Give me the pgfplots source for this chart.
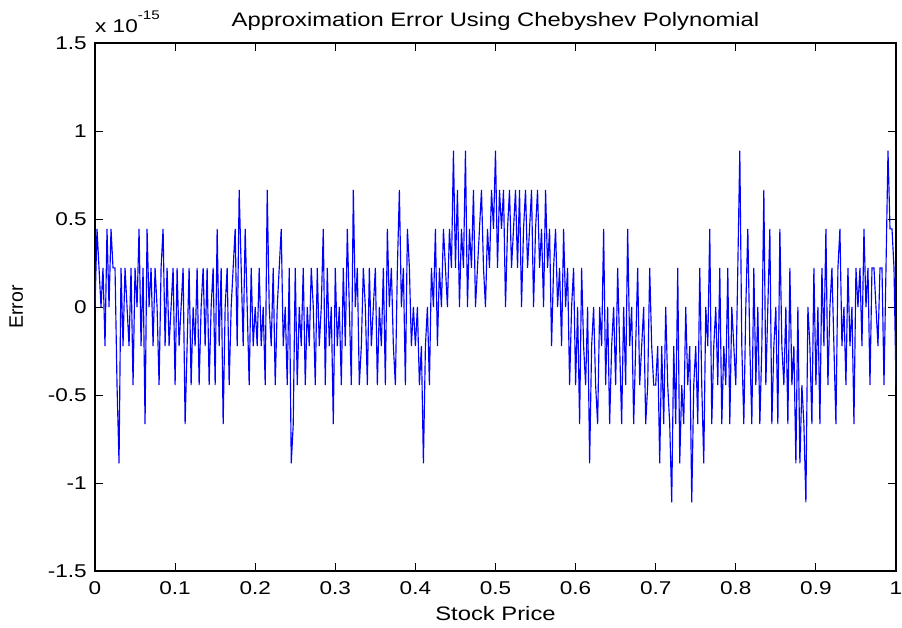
\documentclass[border=0pt]{standalone}
\usepackage{fontspec}
\setmainfont{Liberation Sans}[FakeStretch=1.22]
\newfontfamily\plainfont{Liberation Sans}
\usepackage{pgfplots}
\pgfplotsset{compat=1.18}
\begin{document}
\begin{tikzpicture}
\begin{axis}[
  at={(0pt,0pt)}, anchor=south west,
  scale only axis, width=801pt, height=528pt,
  xmin=0, xmax=1, ymin=-1.5, ymax=1.5,
  xtick={0,0.1,0.2,0.3,0.4,0.5,0.6,0.7,0.8,0.9,1},
  xticklabels={0,0.1,0.2,0.3,0.4,0.5,0.6,0.7,0.8,0.9,1},
  ytick={-1.5,-1,-0.5,0,0.5,1,1.5},
  yticklabels={-1.5,-1,-0.5,0,0.5,1,1.5},
  scaled y ticks=false,
  tick align=inside, major tick length=8pt,
  tick style={black, line width=0.9pt},
  axis line style={black, line width=1.2pt},
  xticklabel style={font=\fontsize{18.5}{20}\selectfont, anchor=base, inner sep=0pt, yshift=-24pt},
  yticklabel style={font=\fontsize{18.5}{20}\selectfont, anchor=east, inner sep=0pt, xshift=-8pt},
]
\addplot[blue, line width=1.15pt] coordinates {
(0,0)(0.0025,0.444)(0.005,0.222)(0.0075,0)(0.01,0.222)(0.0125,-0.222)(0.015,0.444)(0.0175,0)(0.02,0.444)(0.0225,0.222)
(0.025,0.222)(0.0275,-0.444)(0.03,-0.888)(0.0325,0.222)(0.035,-0.222)(0.0375,0.222)(0.04,0)(0.0425,-0.222)(0.045,0.222)(0.0475,-0.444)
(0.05,0.222)(0.0525,0)(0.055,0.444)(0.0575,-0.222)(0.06,0.222)(0.0625,-0.666)(0.065,0.444)(0.0675,0)(0.07,0.222)(0.0725,-0.222)
(0.075,0.222)(0.0775,0)(0.08,-0.444)(0.0825,0.222)(0.085,0.444)(0.0875,-0.222)(0.09,0.222)(0.0925,-0.222)(0.095,0)(0.0975,0.222)
(0.1,-0.444)(0.1025,0.222)(0.105,-0.222)(0.1075,0)(0.11,0.222)(0.1125,-0.666)(0.115,-0.222)(0.1175,0.222)(0.12,-0.444)(0.1225,0)
(0.125,-0.222)(0.1275,0.222)(0.13,-0.444)(0.1325,0)(0.135,0.222)(0.1375,-0.222)(0.14,0.222)(0.1425,-0.444)(0.145,0)(0.1475,0.222)
(0.15,-0.444)(0.1525,0.444)(0.155,-0.222)(0.1575,0.222)(0.16,-0.666)(0.1625,0)(0.165,0.222)(0.1675,-0.444)(0.17,0)(0.1725,0.222)
(0.175,0.444)(0.1775,-0.222)(0.18,0.666)(0.1825,0.222)(0.185,-0.222)(0.1875,0.444)(0.19,0)(0.1925,-0.444)(0.195,0.222)(0.1975,-0.222)
(0.2,0)(0.2025,-0.222)(0.205,0.222)(0.2075,-0.222)(0.21,0)(0.2125,-0.444)(0.215,0.666)(0.2175,0)(0.22,-0.222)(0.2225,0.222)
(0.225,-0.444)(0.2275,0)(0.23,0.222)(0.2325,0.444)(0.235,-0.222)(0.2375,0)(0.24,-0.444)(0.2425,0.222)(0.245,-0.888)(0.2475,-0.666)
(0.25,0.222)(0.2525,-0.444)(0.255,0)(0.2575,-0.222)(0.26,0.222)(0.2625,-0.444)(0.265,0)(0.2675,-0.222)(0.27,0.222)(0.2725,0)
(0.275,-0.444)(0.2775,0.222)(0.28,-0.222)(0.2825,0)(0.285,0.444)(0.2875,-0.444)(0.29,0.222)(0.2925,-0.222)(0.295,0)(0.2975,-0.666)
(0.3,0.222)(0.3025,-0.222)(0.305,0)(0.3075,-0.444)(0.31,0.222)(0.3125,-0.222)(0.315,0.444)(0.3175,0)(0.32,-0.444)(0.3225,0.666)
(0.325,0)(0.3275,0.222)(0.33,-0.444)(0.3325,-0.222)(0.335,0.222)(0.3375,0)(0.34,-0.444)(0.3425,0.222)(0.345,-0.222)(0.3475,0)
(0.35,0.222)(0.3525,-0.444)(0.355,0)(0.3575,-0.222)(0.36,0.222)(0.3625,-0.444)(0.365,0.444)(0.3675,0)(0.37,0.222)(0.3725,-0.222)
(0.375,-0.444)(0.3775,0.222)(0.38,0.666)(0.3825,0)(0.385,0.222)(0.3875,-0.444)(0.39,0.444)(0.3925,0.222)(0.395,-0.222)(0.3975,0)
(0.4,-0.222)(0.4025,0)(0.405,-0.444)(0.4075,-0.222)(0.41,-0.888)(0.4125,-0.222)(0.415,0)(0.4175,-0.444)(0.42,0.222)(0.4225,0)
(0.425,0.444)(0.4275,-0.222)(0.43,0.222)(0.4325,0)(0.435,0.444)(0.4375,0.222)(0.44,0)(0.4425,0.444)(0.445,0.222)(0.4475,0.888)
(0.45,0.222)(0.4525,0.666)(0.455,0)(0.4575,0.444)(0.46,0.222)(0.4625,0.888)(0.465,0)(0.4675,0.444)(0.47,0.222)(0.4725,0.666)
(0.475,0)(0.4775,0.222)(0.48,0.444)(0.4825,0.666)(0.485,0.222)(0.4875,0)(0.49,0.444)(0.4925,0.222)(0.495,0.666)(0.4975,0.444)
(0.5,0.888)(0.5025,0.222)(0.505,0.666)(0.5075,0.444)(0.51,0.666)(0.5125,0)(0.515,0.444)(0.5175,0.666)(0.52,0.222)(0.5225,0.444)
(0.525,0.666)(0.5275,0.222)(0.53,0.666)(0.5325,0)(0.535,0.444)(0.5375,0.666)(0.54,0.222)(0.5425,0.444)(0.545,0.666)(0.5475,0)
(0.55,0.444)(0.5525,0.666)(0.555,0.222)(0.5575,0.444)(0.56,0)(0.5625,0.666)(0.565,0.222)(0.5675,0.444)(0.57,-0.222)(0.5725,0.222)
(0.575,0.444)(0.5775,0)(0.58,0.222)(0.5825,-0.222)(0.585,0.444)(0.5875,0)(0.59,0.222)(0.5925,-0.444)(0.595,0)(0.5975,0.222)
(0.6,-0.444)(0.6025,0)(0.605,-0.666)(0.6075,0.222)(0.61,-0.222)(0.6125,-0.444)(0.615,0)(0.6175,-0.888)(0.62,-0.222)(0.6225,0)
(0.625,-0.444)(0.6275,-0.666)(0.63,0)(0.6325,-0.222)(0.635,0.444)(0.6375,-0.444)(0.64,0)(0.6425,-0.666)(0.645,-0.222)(0.6475,0)
(0.65,-0.444)(0.6525,0.222)(0.655,-0.222)(0.6575,-0.666)(0.66,0)(0.6625,-0.444)(0.665,0.444)(0.6675,-0.222)(0.67,0)(0.6725,-0.666)
(0.675,-0.222)(0.6775,0.222)(0.68,-0.444)(0.6825,-0.222)(0.685,0)(0.6875,-0.666)(0.69,-0.444)(0.6925,0.222)(0.695,-0.222)(0.6975,-0.444)
(0.7,-0.444)(0.7025,-0.222)(0.705,-0.888)(0.7075,-0.222)(0.71,-0.666)(0.7125,0)(0.715,-0.444)(0.7175,-0.666)(0.72,-1.11)(0.7225,-0.222)
(0.725,-0.666)(0.7275,0.222)(0.73,-0.888)(0.7325,-0.444)(0.735,-0.666)(0.7375,0)(0.74,-0.444)(0.7425,-0.222)(0.745,-1.11)(0.7475,-0.444)
(0.75,-0.222)(0.7525,-0.666)(0.755,0.222)(0.7575,-0.444)(0.76,-0.888)(0.7625,0)(0.765,-0.222)(0.7675,0.444)(0.77,-0.666)(0.7725,-0.222)
(0.775,0)(0.7775,-0.444)(0.78,0.222)(0.7825,-0.666)(0.785,-0.222)(0.7875,-0.444)(0.79,0.222)(0.7925,-0.666)(0.795,0)(0.7975,-0.222)
(0.8,-0.444)(0.8025,0.222)(0.805,0.888)(0.8075,-0.222)(0.81,-0.666)(0.8125,0)(0.815,0.444)(0.8175,-0.222)(0.82,-0.666)(0.8225,0.222)
(0.825,-0.444)(0.8275,0)(0.83,-0.666)(0.8325,-0.222)(0.835,0.666)(0.8375,-0.444)(0.84,0)(0.8425,0.444)(0.845,-0.666)(0.8475,-0.222)
(0.85,0)(0.8525,-0.666)(0.855,0.444)(0.8575,-0.222)(0.86,-0.444)(0.8625,0)(0.865,-0.666)(0.8675,0.222)(0.87,-0.444)(0.8725,-0.222)
(0.875,-0.888)(0.8775,0)(0.88,-0.888)(0.8825,-0.444)(0.885,-0.666)(0.8875,-1.11)(0.89,0)(0.8925,-0.222)(0.895,-0.666)(0.8975,0.222)
(0.9,-0.444)(0.9025,0)(0.905,-0.666)(0.9075,0.222)(0.91,-0.222)(0.9125,0.444)(0.915,-0.444)(0.9175,0)(0.92,0.222)(0.9225,-0.222)
(0.925,-0.666)(0.9275,0.222)(0.93,0.444)(0.9325,-0.222)(0.935,0)(0.9375,-0.444)(0.94,0.222)(0.9425,-0.222)(0.945,0)(0.9475,-0.666)
(0.95,0.222)(0.9525,0)(0.955,0.222)(0.9575,-0.222)(0.96,0.444)(0.9625,0)(0.965,0.222)(0.9675,-0.444)(0.97,0.222)(0.9725,0.222)
(0.975,0)(0.9775,-0.222)(0.98,0.222)(0.9825,0.222)(0.985,-0.444)(0.9875,0.222)(0.99,0.888)(0.9925,0.444)(0.995,0.444)(0.9975,0.222)(1,-0.444)
};
\end{axis}
\node[anchor=base, inner sep=0pt, font=\fontsize{19.5}{22}\selectfont] at (400.5pt,544pt) {Approximation Error Using Chebyshev Polynomial};
\node[anchor=base west, inner sep=0pt, font=\fontsize{18.5}{20}\selectfont] at (0pt,538pt) {x 10\raisebox{13pt}{\fontsize{12.5}{13}\selectfont -15}};
\node[anchor=base, inner sep=0pt, font=\fontsize{19.5}{22}\selectfont] at (400.5pt,-50pt) {Stock Price};
\node[rotate=90, anchor=base, inner sep=0pt, font=\fontsize{19.5}{22}\selectfont\plainfont] at (-72pt,264pt) {Error};
\pgfresetboundingbox
\useasboundingbox (-95pt,-57pt) rectangle (807pt,571pt);
\end{tikzpicture}
\end{document}
